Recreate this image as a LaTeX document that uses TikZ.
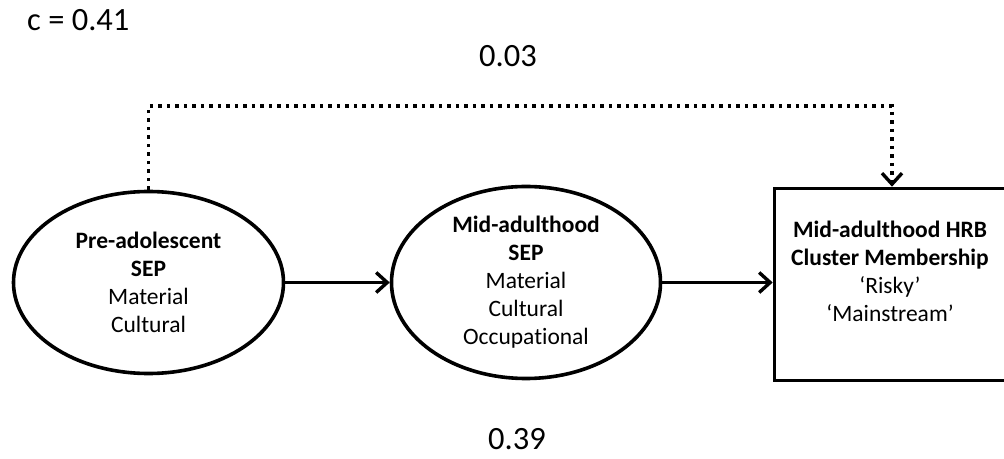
\documentclass[tikz,border=0pt]{standalone}
\usepackage{fontspec}
\setmainfont{Carlito}[Ligatures=NoCommon]
\usetikzlibrary{shapes.geometric,arrows.meta,calc}
\begin{document}
\begin{tikzpicture}[x=1pt,y=1pt,
  txt/.style={font=\fontsize{23.5}{28}\selectfont, align=center, text=black},
  bigtxt/.style={font=\fontsize{32.5}{38}\selectfont, text=black, inner sep=0},
  ell/.style={ellipse, draw=black, line width=3.6pt, inner sep=0pt, txt},
  boxst/.style={rectangle, draw=black, line width=3.6pt, inner sep=0pt, minimum width=231, minimum height=192},
  tip/.style={-{Straight Barb[length=11pt,width=20pt,line width=3.4pt]}},
  arr/.style={line width=3.4pt, tip},
  dotarr/.style={line width=3.6pt, dash pattern=on 3.5pt off 5pt, tip}
]
\useasboundingbox (0,0) rectangle (1004,458);
\clip (0,0) rectangle (1004,458);
\node[bigtxt, anchor=base west] (c) at (27,427) {c = 0.41};
\node[bigtxt, anchor=base] (direct) at (508,391) {0.03};
\node[bigtxt, anchor=base] (indirect) at (517,9) {0.39};

\node[ell, minimum width=270, minimum height=182] (e1) at (148.5,175.5)
  {\textbf{Pre-adolescent}\\\textbf{SEP}\\Material\\Cultural};
\node[ell, minimum width=269, minimum height=192] (e2) at (526,175.5)
  {\textbf{Mid-adulthood}\\\textbf{SEP}\\Material\\Cultural\\Occupational};
\node[boxst] (box) at (890,173.5) {};
\node[txt] (boxlbl) at ([yshift=13]box.center)
  {\textbf{Mid-adulthood HRB}\\\textbf{Cluster Membership}\\‘Risky’\\‘Mainstream’};

\draw[arr] (e1.east) -- (e2.west);
\draw[arr] (e2.east) -- (e2.east -| box.west);
\coordinate (target) at ([xshift=2]box.north);
\coordinate (toprow) at (0,352);
\draw[dotarr] (e1.north) |- (toprow -| target) -- (target);
\end{tikzpicture}
\end{document}
